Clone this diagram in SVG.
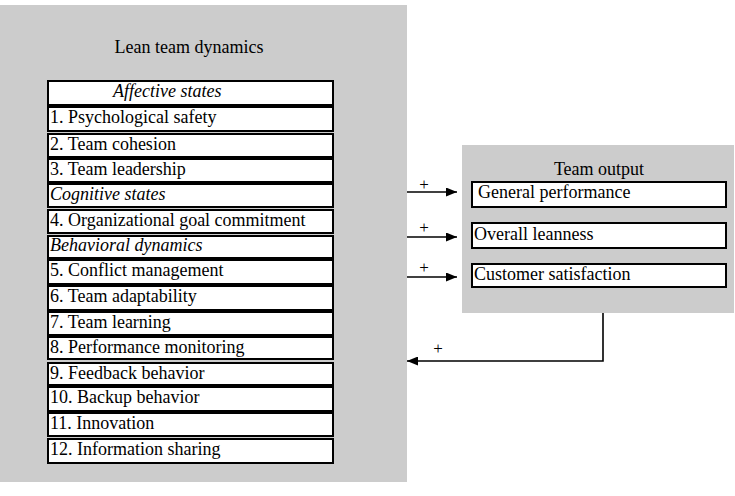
<svg xmlns="http://www.w3.org/2000/svg" width="735" height="496" viewBox="0 0 735 496">
<defs>
<style>
.panel{fill:#cccccc;stroke:none}
.box{fill:#ffffff;stroke:#000000;stroke-width:2}
.t{font-family:"Liberation Serif","Times New Roman",serif;font-size:18px;fill:#000000}
.i{font-style:italic}
.c{text-anchor:middle}
.plus{font-family:"Liberation Serif","Times New Roman",serif;font-size:17px;fill:#000000;text-anchor:middle}
.conn{fill:none;stroke:#000000;stroke-width:1.6}
</style>
<marker id="ah" markerWidth="11" markerHeight="9" refX="11" refY="4.5" orient="auto" markerUnits="userSpaceOnUse">
<path d="M0,0 L11,4.5 L0,9 Z" fill="#000000"/>
</marker>
</defs>
<rect width="735" height="496" fill="#ffffff"/>
<g id="lean-team-dynamics">
<rect class="panel" x="0" y="5" width="407" height="477"/>
<text class="t c" x="189" y="53">Lean team dynamics</text>
</g>
<g id="affective-states"><rect class="box" x="48" y="81" width="285" height="24"/><text class="t i" x="113" y="97">Affective states</text></g>
<g id="psychological-safety"><rect class="box" x="48" y="107" width="285" height="24"/><text class="t" x="50" y="123">1. Psychological safety</text></g>
<g id="team-cohesion"><rect class="box" x="48" y="134" width="285" height="23"/><text class="t" x="50" y="150">2. Team cohesion</text></g>
<g id="team-leadership"><rect class="box" x="48" y="159" width="285" height="23"/><text class="t" x="50" y="175">3. Team leadership</text></g>
<g id="cognitive-states"><rect class="box" x="48" y="184" width="285" height="23"/><text class="t i" x="50" y="200">Cognitive states</text></g>
<g id="goal-commitment"><rect class="box" x="48" y="210" width="285" height="23"/><text class="t" x="50" y="226">4. Organizational goal commitment</text></g>
<g id="behavioral-dynamics"><rect class="box" x="48" y="236" width="285" height="22"/><text class="t i" x="50" y="251">Behavioral dynamics</text></g>
<g id="conflict-management"><rect class="box" x="48" y="260" width="285" height="24"/><text class="t" x="50" y="276">5. Conflict management</text></g>
<g id="team-adaptability"><rect class="box" x="48" y="286" width="285" height="24"/><text class="t" x="50" y="302">6. Team adaptability</text></g>
<g id="team-learning"><rect class="box" x="48" y="312" width="285" height="23"/><text class="t" x="50" y="328">7. Team learning</text></g>
<g id="performance-monitoring"><rect class="box" x="48" y="337" width="285" height="22"/><text class="t" x="50" y="353">8. Performance monitoring</text></g>
<g id="feedback-behavior"><rect class="box" x="48" y="363" width="285" height="22"/><text class="t" x="50" y="379">9. Feedback behavior</text></g>
<g id="backup-behavior"><rect class="box" x="48" y="387" width="285" height="24"/><text class="t" x="50" y="403">10. Backup behavior</text></g>
<g id="innovation"><rect class="box" x="48" y="413" width="285" height="23"/><text class="t" x="50" y="429">11. Innovation</text></g>
<g id="information-sharing"><rect class="box" x="48" y="439" width="285" height="24"/><text class="t" x="50" y="455">12. Information sharing</text></g>
<g id="team-output">
<rect class="panel" x="462" y="145" width="272" height="168"/>
<text class="t c" x="599" y="175">Team output</text>
</g>
<g id="general-performance"><rect class="box" x="472" y="182" width="254" height="25"/><text class="t" x="478" y="198">General performance</text></g>
<g id="overall-leanness"><rect class="box" x="472" y="223" width="254" height="25"/><text class="t" x="474" y="240">Overall leanness</text></g>
<g id="customer-satisfaction"><rect class="box" x="472" y="264" width="254" height="23"/><text class="t" x="474" y="280">Customer satisfaction</text></g>
<g id="connectors">
<path class="conn" d="M407,192 L457,192" marker-end="url(#ah)"/>
<path class="conn" d="M407,237 L457,237" marker-end="url(#ah)"/>
<path class="conn" d="M407,277 L457,277" marker-end="url(#ah)"/>
<path class="conn" d="M603,313 L603,361 L407,361" marker-end="url(#ah)"/>
<text class="plus" x="424" y="190">+</text>
<text class="plus" x="424" y="233">+</text>
<text class="plus" x="424" y="273">+</text>
<text class="plus" x="438" y="354">+</text>
</g>
</svg>
